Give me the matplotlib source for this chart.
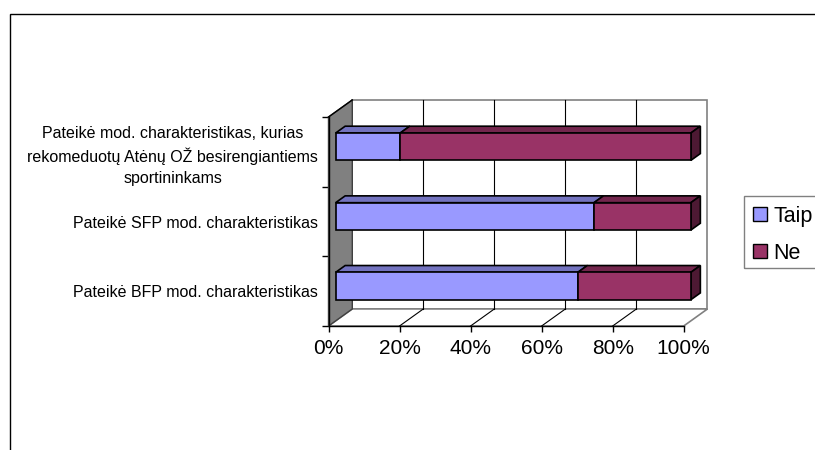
import matplotlib.pyplot as plt
from matplotlib.patches import Polygon, Rectangle, Patch

plt.rcParams['font.family'] = ['Liberation Sans', 'DejaVu Sans']

# data (bottom to top), counts out of 22 respondents
categories = ['Pateikė BFP mod. charakteristikas',
              'Pateikė SFP mod. charakteristikas',
              'Pateikė mod. charakteristikas, kurias\nrekomeduotų Atėnų OŽ besirengiantiems\nsportininkams']
taip = [15, 16, 4]
ne = [7, 6, 18]
series_names = ['Taip', 'Ne']
xticks = [0, 20, 40, 60, 80, 100]
xtick_labels = ['0%', '20%', '40%', '60%', '80%', '100%']

front_colors = ['#9999FF', '#993366']
top_colors = ['#7373BF', '#73264D']
side_colors = ['#4D4D80', '#4D1933']

# 3d depth of the plot box (in data units) and where bars sit in it
DX, DY = 6.7, 0.245
BAR_FRONT, BAR_BACK = 0.3, 0.7
BAR_H = 0.393

W, H = 815, 450
fig = plt.figure(figsize=(W / 100, H / 100), dpi=100)
ax = fig.add_axes([328.5 / W, (H - 326) / H, 355.2 / W, 209 / H])
ax.set_xlim(0, 100)
ax.set_ylim(0, len(categories))
ax.patch.set_visible(False)

# back wall + gridlines
ax.add_patch(Rectangle((DX, DY), 100, len(categories), facecolor='white',
                       edgecolor='#808080', lw=1.2, clip_on=False, zorder=1))
for x in xticks[1:-1]:
    ax.plot([x + DX, x + DX], [DY, len(categories) + DY], color='black', lw=0.8,
            clip_on=False, zorder=2)
# floor
ax.add_patch(Polygon([(0, 0), (100, 0), (100 + DX, DY), (DX, DY)], closed=True,
                     facecolor='white', edgecolor='#808080', lw=1.2, clip_on=False, zorder=1))
for x in xticks[1:-1]:
    ax.plot([x, x + DX], [0, DY], color='black', lw=0.8, clip_on=False, zorder=2)
# left side wall
ax.add_patch(Polygon([(0, 0), (0, len(categories)), (DX, len(categories) + DY), (DX, DY)],
                     closed=True, facecolor='#808080', edgecolor='#404040', lw=1,
                     clip_on=False, zorder=2))
ax.plot([0, DX], [len(categories), len(categories) + DY], color='black', lw=1,
        clip_on=False, zorder=3)

# bars
fx, fy = BAR_FRONT * DX, BAR_FRONT * DY
bx, by = BAR_BACK * DX, BAR_BACK * DY
for i in range(len(categories)):
    total = taip[i] + ne[i]
    vals = [taip[i] / total * 100, ne[i] / total * 100]
    y0 = i + 0.5 - BAR_H / 2 + fy
    y1 = y0 + BAR_H
    left = 0
    for j, v in enumerate(vals):
        ax.add_patch(Polygon([(left + fx, y1), (left + v + fx, y1),
                              (left + v + bx, y1 - fy + by), (left + bx, y1 - fy + by)],
                             closed=True, facecolor=top_colors[j], edgecolor='black',
                             lw=1.2, clip_on=False, zorder=4))
        ax.barh(y0 + BAR_H / 2, v, left=left + fx, height=BAR_H, color=front_colors[j],
                edgecolor='black', lw=1.2, clip_on=False, zorder=5)
        left += v
    ax.add_patch(Polygon([(left + fx, y0), (left + fx, y1),
                          (left + bx, y1 - fy + by), (left + bx, y0 - fy + by)],
                         closed=True, facecolor=side_colors[1], edgecolor='black',
                         lw=1.2, clip_on=False, zorder=4))

# axes
for s in ['top', 'right']:
    ax.spines[s].set_visible(False)
for s in ['bottom', 'left']:
    ax.spines[s].set_color('black')
    ax.spines[s].set_linewidth(1)
    ax.spines[s].set_zorder(6)
ax.set_xticks(xticks)
ax.set_xticklabels(xtick_labels, fontsize=15)
ax.tick_params(axis='x', direction='out', length=4, width=1, pad=5)
ax.set_yticks(range(len(categories) + 1))
ax.set_yticklabels([])
ax.tick_params(axis='y', which='major', direction='out', length=5, width=1)
ax.set_yticks([i + 0.5 for i in range(len(categories))], minor=True)
ax.set_yticklabels(categories, minor=True, fontsize=11.5, multialignment='center',
                   linespacing=1.45)
ax.tick_params(axis='y', which='minor', length=0, pad=7.5)

# legend (frame drawn separately, it runs off the right edge like the original)
handles = [Patch(facecolor=c, edgecolor='black') for c in front_colors]
leg = fig.legend(handles, series_names, loc='upper left', bbox_to_anchor=(743 / W, 1 - 196 / H),
                 fontsize=15.5, frameon=False, handlelength=0.65, handleheight=0.65,
                 handletextpad=0.3, labelspacing=0.75, borderpad=0.45, borderaxespad=0)
fig.patches.append(Rectangle((743.5 / W, 1 - 268 / H), 0.2, 72 / H, transform=fig.transFigure,
                             fill=False, edgecolor='#808080', lw=1))

# outer chart frame
fig.patches.append(Rectangle((9.5 / W, -0.1), 1.0, 1.1 - 14.5 / H, transform=fig.transFigure,
                             fill=False, edgecolor='black', lw=1))

fig.savefig('out.png', dpi=100)
